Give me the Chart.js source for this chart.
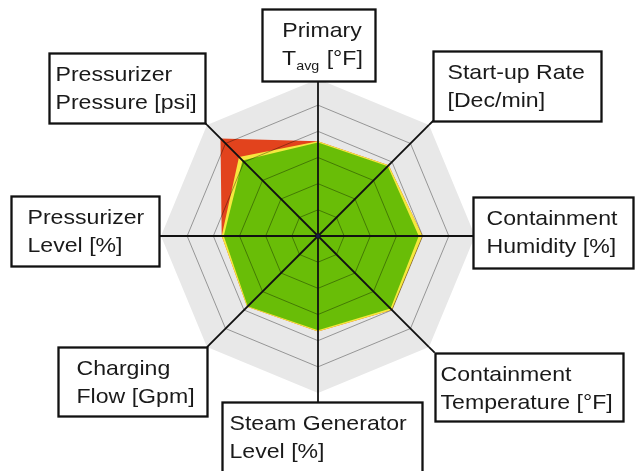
<!DOCTYPE html>
<html>
<head>
<meta charset="utf-8">
<script src="https://cdn.jsdelivr.net/npm/chart.js@4/dist/chart.umd.min.js"></script>
<style>
  html, body { margin: 0; padding: 0; background: #fff; }
  #wrap { width: 637px; height: 471px; }
</style>
</head>
<body>
<div id="wrap"><canvas id="myChart" width="637" height="471"></canvas></div>
<script>
// categories, clockwise from the top
const categories = ['Primary Tavg', 'Start-up Rate', 'Containment Humidity', 'Containment Temperature',
  'Steam Generator Level', 'Charging Flow', 'Pressurizer Level', 'Pressurizer Pressure'];

// text in the boxes, "_{..}" is a subscript
const boxText = [
  ['Primary', 'T_{avg} [°F]'],
  ['Start-up Rate', '[Dec/min]'],
  ['Containment', 'Humidity [%]'],
  ['Containment', 'Temperature [°F]'],
  ['Steam Generator', 'Level [%]'],
  ['Charging', 'Flow [Gpm]'],
  ['Pressurizer', 'Level [%]'],
  ['Pressurizer', 'Pressure [psi]']
];

const normalValues  = [3.57, 3.77, 3.85, 3.92, 3.60, 3.80, 3.60, 4.08];
const warningValues = [3.62, 3.82, 4.00, 4.00, 3.65, 3.83, 3.68, 4.27];
const alarmValues   = [3.62, 3.82, 4.00, 4.00, 3.65, 3.83, 3.68, 5.27];
const rangeValues   = [6, 6, 6, 6, 6, 6, 6, 6];
const scaleMax = 6;

// box geometry: size, which point of the box touches the axis end, gap along the axis, text padding
const boxStyle = [
  { w: 113, h: 72, ax: 0.5, ay: 1,    gap: -2, pad: 'center' },
  { w: 168, h: 70, ax: 0,   ay: 1,    gap: 6,  pad: 14 },
  { w: 160, h: 71, ax: 0,   ay: 0.55, gap: -2, pad: 13 },
  { w: 188, h: 68, ax: 0,   ay: 0,    gap: 8,  pad: 5 },
  { w: 200, h: 74, ax: 0.48, ay: 0,   gap: 9,  pad: 7 },
  { w: 149, h: 69, ax: 1,   ay: 0,    gap: 0,  pad: 18 },
  { w: 148, h: 70, ax: 1,   ay: 0.57, gap: 2,  pad: 16 },
  { w: 156, h: 70, ax: 1,   ay: 1,    gap: 3,  pad: 6 }
];

const FONT = '21px "Liberation Sans", Arial, sans-serif';
const SUBFONT = '13px "Liberation Sans", Arial, sans-serif';
const SX = 1.1;

function parseLine(line) {
  const parts = [];
  const re = /_\{(.*?)\}/g;
  let last = 0, m;
  while ((m = re.exec(line)) !== null) {
    if (m.index > last) parts.push({ t: line.slice(last, m.index), sub: false });
    parts.push({ t: m[1], sub: true });
    last = re.lastIndex;
  }
  if (last < line.length) parts.push({ t: line.slice(last), sub: false });
  return parts;
}

function lineWidth(ctx, parts) {
  let w = 0;
  parts.forEach(p => {
    ctx.font = p.sub ? SUBFONT : FONT;
    w += ctx.measureText(p.t).width * SX;
  });
  return w;
}

const labelBoxes = {
  id: 'labelBoxes',
  afterDraw(chart) {
    const scale = chart.scales.r;
    const ctx = chart.ctx;
    const R = scale.drawingArea;
    ctx.save();
    // little hub at the centre
    ctx.fillStyle = '#1b1b4a';
    ctx.beginPath();
    ctx.arc(scale.xCenter, scale.yCenter, 2, 0, Math.PI * 2);
    ctx.fill();

    categories.forEach((c, i) => {
      const v = scale.getPointPosition(i, R);
      const b = boxStyle[i];
      const px = v.x + Math.cos(v.angle) * b.gap;
      const py = v.y + Math.sin(v.angle) * b.gap;
      const left = Math.round(px - b.ax * b.w) + 0.5;
      const top = Math.round(py - b.ay * b.h) + 0.5;

      ctx.strokeStyle = '#111';
      ctx.lineWidth = 1.8;
      ctx.beginPath();
      ctx.moveTo(v.x, v.y);
      ctx.lineTo(px, py);
      ctx.stroke();

      ctx.fillStyle = '#fff';
      ctx.fillRect(left, top, b.w, b.h);
      ctx.lineWidth = 2.3;
      ctx.strokeStyle = '#111';
      ctx.strokeRect(left, top, b.w, b.h);

      ctx.fillStyle = '#1a1a1a';
      ctx.textBaseline = 'alphabetic';
      ctx.textAlign = 'left';
      boxText[i].forEach((line, k) => {
        const parts = parseLine(line);
        let x;
        if (b.pad === 'center') x = left + (b.w - lineWidth(ctx, parts)) / 2 + 3;
        else x = left + b.pad;
        const y = top + 27 + k * 28;
        parts.forEach(p => {
          ctx.font = p.sub ? SUBFONT : FONT;
          ctx.save();
          ctx.translate(x, p.sub ? y + 5 : y);
          ctx.scale(SX, 1);
          ctx.fillText(p.t, 0, 0);
          ctx.restore();
          x += ctx.measureText(p.t).width * SX + (p.sub ? 1 : 0);
        });
      });
    });
    ctx.restore();
  }
};

new Chart(
  document.getElementById('myChart'),
  {
    type: 'radar',
    data: {
      labels: categories,
      datasets: [
        { label: 'Normal', data: normalValues, backgroundColor: '#69bd07', borderWidth: 0, pointRadius: 0, fill: true },
        { label: 'Warning', data: warningValues, backgroundColor: '#f6e83e', borderWidth: 0, pointRadius: 0, fill: true },
        { label: 'Alarm', data: alarmValues, backgroundColor: '#e2431d', borderWidth: 0, pointRadius: 0, fill: true },
        { label: 'Range', data: rangeValues, backgroundColor: '#e8e8e8', borderWidth: 0, pointRadius: 0, fill: true }
      ]
    },
    options: {
      responsive: false,
      animation: false,
      layout: { padding: { top: 79, bottom: 78, left: 0, right: 1 } },
      plugins: {
        legend: { display: false },
        tooltip: { enabled: false }
      },
      scales: {
        r: {
          min: 0,
          max: scaleMax,
          ticks: { stepSize: 1, display: false },
          pointLabels: { display: false },
          grid: {
            z: 1,
            lineWidth: 0.8,
            color: ctx => ctx.tick && ctx.tick.value >= scaleMax ? 'rgba(0,0,0,0)' : 'rgba(0,0,0,0.45)'
          },
          angleLines: { color: '#111', lineWidth: 1.8 }
        }
      }
    },
    plugins: [labelBoxes]
  }
);
</script>
</body>
</html>
